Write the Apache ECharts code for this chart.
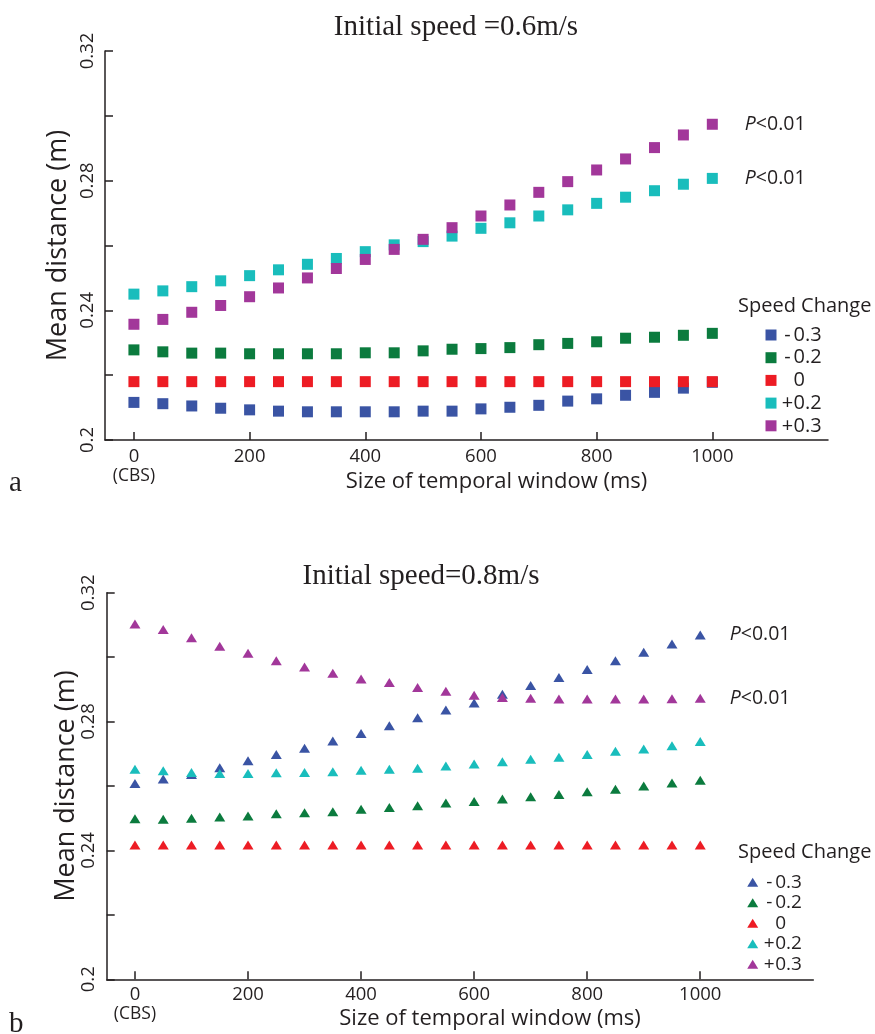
<!DOCTYPE html>
<html>
<head>
<meta charset="utf-8">
<script src="https://cdn.jsdelivr.net/npm/echarts@6/dist/echarts.min.js"></script>
<style>
  html, body { margin: 0; padding: 0; background: #fff; }
  #chart { width: 875px; height: 1034px; }
</style>
</head>
<body>
<div id="chart"></div>
<script>
// temporal window sizes (ms)
const windowSizes = [0, 50, 100, 150, 200, 250, 300, 350, 400, 450, 500,
                     550, 600, 650, 700, 750, 800, 850, 900, 950, 1000];
const speedChanges = ['-0.3', '-0.2', '0', '+0.2', '+0.3'];
const xTickValues = [0, 200, 400, 600, 800, 1000];
const yTickValues = [0.2, 0.22, 0.24, 0.26, 0.28, 0.3, 0.32];
const yLabelValues = [0.2, 0.24, 0.28, 0.32];

// panel a : initial speed 0.6 m/s
const aMinus03 = [0.2116, 0.2112, 0.2105, 0.2098, 0.2093, 0.2089, 0.2087, 0.2087, 0.2087, 0.2087, 0.2089,
                  0.2089, 0.2096, 0.2101, 0.2107, 0.2120, 0.2127, 0.2138, 0.2147, 0.2160, 0.2178];
const aMinus02 = [0.2278, 0.2272, 0.2268, 0.2268, 0.2266, 0.2266, 0.2266, 0.2266, 0.2269, 0.2269, 0.2275,
                  0.2280, 0.2282, 0.2285, 0.2294, 0.2298, 0.2303, 0.2314, 0.2317, 0.2323, 0.2329];
const aZero    = [0.2180, 0.2180, 0.2180, 0.2180, 0.2180, 0.2180, 0.2180, 0.2180, 0.2180, 0.2180, 0.2180,
                  0.2180, 0.2180, 0.2180, 0.2180, 0.2180, 0.2180, 0.2180, 0.2180, 0.2180, 0.2180];
const aPlus02  = [0.2450, 0.2460, 0.2473, 0.2491, 0.2507, 0.2525, 0.2542, 0.2560, 0.2581, 0.2602, 0.2612,
                  0.2629, 0.2653, 0.2670, 0.2691, 0.2710, 0.2730, 0.2749, 0.2769, 0.2789, 0.2807];
const aPlus03  = [0.2357, 0.2372, 0.2394, 0.2415, 0.2442, 0.2469, 0.2500, 0.2529, 0.2557, 0.2588, 0.2619,
                  0.2655, 0.2691, 0.2725, 0.2764, 0.2797, 0.2833, 0.2867, 0.2902, 0.2941, 0.2974];

// panel b : initial speed 0.8 m/s
const bMinus03 = [0.2608, 0.2622, 0.2636, 0.2657, 0.2678, 0.2698, 0.2717, 0.2740, 0.2763, 0.2787, 0.2812,
                  0.2836, 0.2858, 0.2885, 0.2912, 0.2937, 0.2962, 0.2989, 0.3015, 0.3041, 0.3069];
const bMinus02 = [0.2498, 0.2497, 0.2500, 0.2504, 0.2507, 0.2514, 0.2517, 0.2520, 0.2528, 0.2533, 0.2539,
                  0.2547, 0.2552, 0.2560, 0.2567, 0.2574, 0.2582, 0.2590, 0.2600, 0.2609, 0.2618];
const bZero    = [0.2417, 0.2417, 0.2417, 0.2417, 0.2417, 0.2417, 0.2417, 0.2417, 0.2417, 0.2417, 0.2417,
                  0.2417, 0.2417, 0.2417, 0.2417, 0.2417, 0.2417, 0.2417, 0.2417, 0.2417, 0.2417];
const bPlus02  = [0.2652, 0.2647, 0.2642, 0.2639, 0.2639, 0.2641, 0.2642, 0.2644, 0.2649, 0.2652, 0.2655,
                  0.2662, 0.2668, 0.2675, 0.2683, 0.2689, 0.2698, 0.2708, 0.2715, 0.2725, 0.2738];
const bPlus03  = [0.3103, 0.3086, 0.3060, 0.3034, 0.3012, 0.2989, 0.2969, 0.2950, 0.2932, 0.2921, 0.2906,
                  0.2894, 0.2882, 0.2875, 0.2872, 0.2870, 0.2870, 0.2870, 0.2870, 0.2871, 0.2872];

const colors = ['#3a54a4', '#0b7b3e', '#ed1c24', '#19bdbc', '#a2379a'];
const ink = '#231f20';
const sans = 'Open Sans';
const serif = 'Liberation Serif';

// P<0.01 tag on the last point
function sigLabel(distance) {
    return {
        show: true, position: 'right', distance: distance,
        formatter: '{i|P}<0.01',
        color: ink, fontFamily: sans, fontSize: 19.5,
        rich: { i: { fontStyle: 'italic', fontFamily: sans, fontSize: 19.5, color: ink } }
    };
}

function makeSeries(name, ys, color, idx, opts) {
    return {
        type: 'scatter',
        name: name,
        xAxisIndex: idx,
        yAxisIndex: idx,
        symbol: opts.symbol,
        symbolSize: opts.size,
        itemStyle: { color: color, opacity: 1 },
        emphasis: { disabled: true },
        data: ys.map((y, i) => {
            const item = { value: [windowSizes[i], y] };
            if (opts.sig && i === ys.length - 1) item.label = sigLabel(opts.sigDist);
            return item;
        })
    };
}

function xAxisOpt(idx, nameGap, margin) {
    return {
        type: 'value', gridIndex: idx, min: -50, max: 1200,
        name: 'Size of temporal window (ms)',
        nameLocation: 'middle', nameGap: nameGap, nameMoveOverlap: false,
        nameTextStyle: { fontFamily: sans, fontSize: 22, color: ink, padding: [0, 0, 0, 60] },
        axisLine: { show: true, onZero: false, lineStyle: { color: ink, width: 1.5 } },
        axisTick: { show: true, inside: true, length: 8, customValues: xTickValues, lineStyle: { color: ink, width: 1.5 } },
        axisLabel: {
            customValues: xTickValues, margin: margin, color: ink,
            fontFamily: sans, fontSize: 18.5, lineHeight: 20,
            formatter: v => v === 0 ? '{a|0}\n{b|(CBS)}' : String(v),
            rich: {
                a: { fontFamily: sans, fontSize: 18.5, lineHeight: 20, color: ink },
                b: { fontFamily: sans, fontSize: 17.5, lineHeight: 19, color: ink }
            }
        },
        splitLine: { show: false }
    };
}

function yAxisOpt(idx, nameGap) {
    return {
        type: 'value', gridIndex: idx, min: 0.2, max: 0.32,
        name: 'Mean distance (m)',
        nameLocation: 'middle', nameGap: nameGap, nameMoveOverlap: false,
        nameTextStyle: { fontFamily: sans, fontSize: 27, color: ink },
        axisLine: { show: true, onZero: false, lineStyle: { color: ink, width: 1.5 } },
        axisTick: { show: true, inside: true, length: 8, customValues: yTickValues, lineStyle: { color: ink, width: 1.5 } },
        axisLabel: {
            customValues: yLabelValues, rotate: 90, margin: 8, color: ink,
            fontFamily: sans, fontSize: 18.5,
            formatter: v => String(Math.round(v * 100) / 100)
        },
        splitLine: { show: false }
    };
}

function legendOpt(icon, w, h, left, top, gap, lh, fs) {
    return {
        show: true, orient: 'vertical', left: left, top: top,
        icon: icon, itemWidth: w, itemHeight: h, itemGap: gap,
        selectedMode: false,
        data: speedChanges,
        formatter: name => {
            const sign = name === '0' ? '\u00a0' : name[0];
            const num = name === '0' ? '0' : name.slice(1);
            return '{s|' + sign + '}{n|' + num + '}';
        },
        textStyle: {
            color: ink, fontFamily: sans, fontSize: fs,
            rich: {
                s: { width: 12, align: 'right', fontFamily: sans, fontSize: fs, lineHeight: lh, color: ink },
                n: { fontFamily: sans, fontSize: fs, lineHeight: lh, color: ink }
            }
        }
    };
}

const topSets = [aMinus03, aMinus02, aZero, aPlus02, aPlus03];
const botSets = [bMinus03, bMinus02, bZero, bPlus02, bPlus03];

const series = [];
topSets.forEach((ys, k) => {
    series.push(makeSeries(speedChanges[k], ys, colors[k], 0,
        { symbol: 'rect', size: 11, sig: k >= 3, sigDist: 27 }));
});
botSets.forEach((ys, k) => {
    series.push(makeSeries(speedChanges[k], ys, colors[k], 1,
        { symbol: 'triangle', size: [11, 9], sig: k === 0 || k === 4, sigDist: 24 }));
});

const titleStyle = { fontFamily: serif, fontSize: 29, fontWeight: 'normal', color: ink };
const legendTitle = { fontFamily: sans, fontSize: 20, fontWeight: 'normal', color: ink };

const option = {
    animation: false,
    backgroundColor: '#fff',
    title: [
        { text: 'Initial speed =0.6m/s', left: 456, top: 13, textAlign: 'center', padding: 0, textStyle: titleStyle },
        { text: 'Initial speed=0.8m/s', left: 421, top: 562, textAlign: 'center', padding: 0, textStyle: titleStyle },
        { text: 'Speed Change', left: 738, top: 296, padding: 0, textStyle: legendTitle },
        { text: 'Speed Change', left: 738, top: 842, padding: 0, textStyle: legendTitle },
        { text: 'a', left: 9, top: 469, padding: 0, textStyle: titleStyle },
        { text: 'b', left: 9, top: 1010, padding: 0, textStyle: titleStyle }
    ],
    legend: [
        legendOpt('rect', 11, 11, 760.5, 320, 2.7, 20, 20),
        legendOpt('triangle', 11, 9, 742.2, 867.7, 1.5, 18, 19)
    ],
    grid: [
        { left: 105, top: 51, width: 723, height: 389, outerBoundsMode: 'none', containLabel: false },
        { left: 106.7, top: 592.7, width: 706.6, height: 386.6, outerBoundsMode: 'none', containLabel: false }
    ],
    xAxis: [xAxisOpt(0, 31, 7), xAxisOpt(1, 28, 5)],
    yAxis: [yAxisOpt(0, 33), yAxisOpt(1, 27)],
    series: series
};

const chart = echarts.init(document.getElementById('chart'));
chart.setOption(option);
window.addEventListener('resize', () => chart.resize());
</script>
</body>
</html>
